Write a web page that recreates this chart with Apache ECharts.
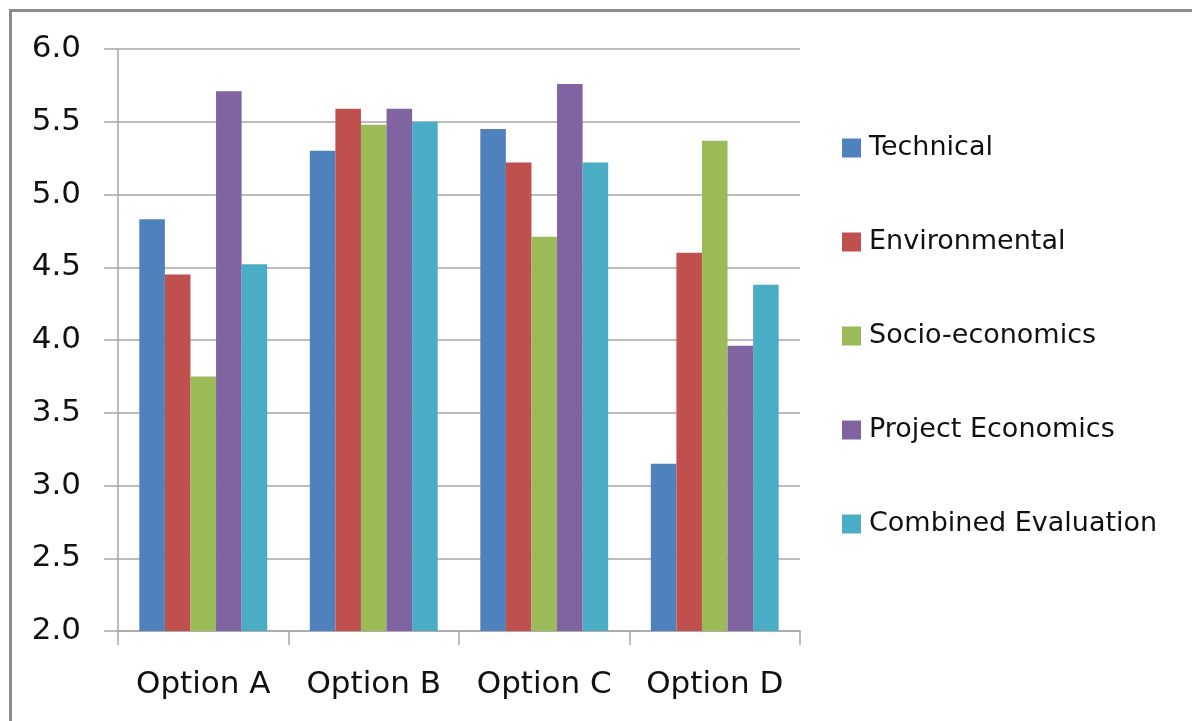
<!DOCTYPE html>
<html>
<head>
<meta charset="utf-8">
<script src="https://cdn.jsdelivr.net/npm/echarts@6/dist/echarts.min.js"></script>
<style>
  html, body { margin: 0; padding: 0; background: #fff; }
  #chart { width: 1192px; height: 721px; }
</style>
</head>
<body>
<div id="chart"></div>
<script>
// Evaluation scores per option, grouped by criterion
const categories = ['Option A', 'Option B', 'Option C', 'Option D'];
const technical = [4.83, 5.30, 5.45, 3.15];
const environmental = [4.45, 5.59, 5.22, 4.60];
const socioEconomics = [3.75, 5.48, 4.71, 5.37];
const projectEconomics = [5.71, 5.59, 5.76, 3.96];
const combinedEvaluation = [4.52, 5.50, 5.22, 4.38];

const seriesNames = ['Technical', 'Environmental', 'Socio-economics', 'Project Economics', 'Combined Evaluation'];
const seriesData = [technical, environmental, socioEconomics, projectEconomics, combinedEvaluation];
const colors = ['#4F81BD', '#C0504D', '#9BBB59', '#8064A2', '#4BACC6'];

const font = 'DejaVu Sans';
const gridGray = '#a6a6a6';

const chart = echarts.init(document.getElementById('chart'), null, { renderer: 'canvas' });
chart.setOption({
  animation: false,
  backgroundColor: '#ffffff',
  color: colors,
  graphic: [{
    type: 'rect',
    left: 8, top: 8,
    shape: { width: 1300, height: 900 },
    style: { fill: 'none', stroke: '#8c8c8c', lineWidth: 3 },
    silent: true
  }],
  grid: { left: 118, right: 392, top: 49, bottom: 90 },
  legend: {
    orient: 'vertical',
    left: 842,
    top: 133,
    padding: 0,
    itemWidth: 19,
    itemHeight: 19,
    itemGap: 64,
    icon: 'rect',
    textStyle: { fontFamily: font, fontSize: 27, color: '#111', lineHeight: 30, padding: [0, 0, 0, 3] },
    data: seriesNames
  },
  xAxis: {
    type: 'category',
    data: categories,
    axisLine: { lineStyle: { color: gridGray, width: 1.5 } },
    axisTick: { show: true, length: 14, interval: 0, alignWithLabel: false, lineStyle: { color: gridGray, width: 1.5 } },
    axisLabel: { fontFamily: font, fontSize: 31, color: '#111', margin: 38, interval: 0, hideOverlap: false }
  },
  yAxis: {
    type: 'value',
    min: 2.0,
    max: 6.0,
    interval: 0.5,
    axisLine: { show: true, lineStyle: { color: gridGray, width: 1.5 } },
    axisTick: { show: true, length: 14, lineStyle: { color: gridGray, width: 1.5 } },
    axisLabel: {
      fontFamily: font, fontSize: 31, color: '#111', margin: 37,
      formatter: v => v.toFixed(1)
    },
    splitLine: { show: true, lineStyle: { color: gridGray, width: 1.5 } }
  },
  series: seriesNames.map((name, i) => ({
    name: name,
    type: 'bar',
    data: seriesData[i],
    barGap: '0%',
    barCategoryGap: '25%',
    itemStyle: { color: colors[i] }
  }))
});
</script>
</body>
</html>
